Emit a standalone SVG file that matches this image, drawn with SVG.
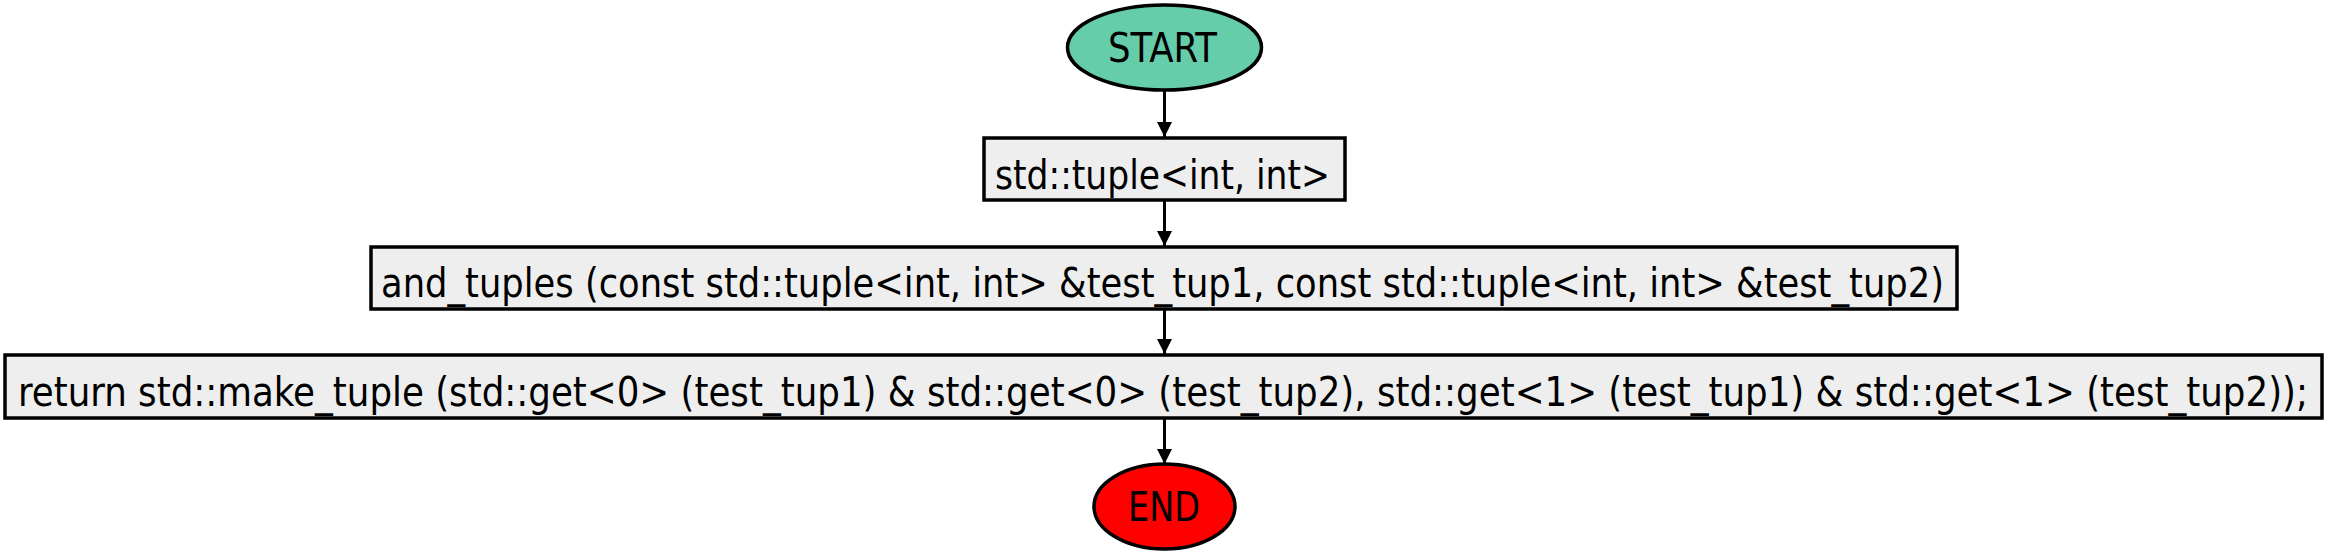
<svg xmlns="http://www.w3.org/2000/svg" width="2329" height="556" viewBox="0 0 2329 556">
<defs>
<style>
.node-shape{stroke:#000;stroke-width:3.5}
.box{fill:#eeeeee}
.lbl{font-family:"DejaVu Sans Condensed","DejaVu Sans",sans-serif;font-size:40px;fill:#000}
.edge{stroke:#000;stroke-width:3;fill:none}
</style>
<marker id="arrow" viewBox="0 0 10 10" refX="10" refY="5" markerWidth="7.5" markerHeight="5" markerUnits="strokeWidth" orient="auto">
<path d="M0,0 L10,5 L0,10 z" fill="#000"/>
</marker>
</defs>
<rect width="2329" height="556" fill="#fff"/>
<g id="connectors">
<line class="edge" x1="1164.5" y1="91" x2="1164.5" y2="137" marker-end="url(#arrow)"/>
<line class="edge" x1="1164.5" y1="200" x2="1164.5" y2="246" marker-end="url(#arrow)"/>
<line class="edge" x1="1164.5" y1="309" x2="1164.5" y2="354" marker-end="url(#arrow)"/>
<line class="edge" x1="1164.5" y1="418" x2="1164.5" y2="464" marker-end="url(#arrow)"/>
</g>
<g id="start">
<ellipse class="node-shape" cx="1164.5" cy="47.5" rx="97" ry="42.5" fill="#66cdaa"/>
<text class="lbl" x="1108" y="62" textLength="109" lengthAdjust="spacingAndGlyphs">START</text>
</g>
<g id="decl">
<rect class="node-shape box" x="984" y="138" width="361" height="62"/>
<text class="lbl" x="995" y="189" textLength="335" lengthAdjust="spacingAndGlyphs">std::tuple&lt;int, int&gt;</text>
</g>
<g id="func">
<rect class="node-shape box" x="371" y="247" width="1586" height="62"/>
<text class="lbl" x="381" y="297" textLength="1563" lengthAdjust="spacingAndGlyphs">and_tuples (const std::tuple&lt;int, int&gt; &amp;test_tup1, const std::tuple&lt;int, int&gt; &amp;test_tup2)</text>
</g>
<g id="ret">
<rect class="node-shape box" x="5" y="355" width="2317" height="63"/>
<text class="lbl" x="18" y="406" textLength="2290" lengthAdjust="spacingAndGlyphs">return std::make_tuple (std::get&lt;0&gt; (test_tup1) &amp; std::get&lt;0&gt; (test_tup2), std::get&lt;1&gt; (test_tup1) &amp; std::get&lt;1&gt; (test_tup2));</text>
</g>
<g id="end">
<ellipse class="node-shape" cx="1164.5" cy="506.5" rx="70.5" ry="42.5" fill="#ff0000"/>
<text class="lbl" x="1128" y="521" textLength="72" lengthAdjust="spacingAndGlyphs">END</text>
</g>
</svg>
